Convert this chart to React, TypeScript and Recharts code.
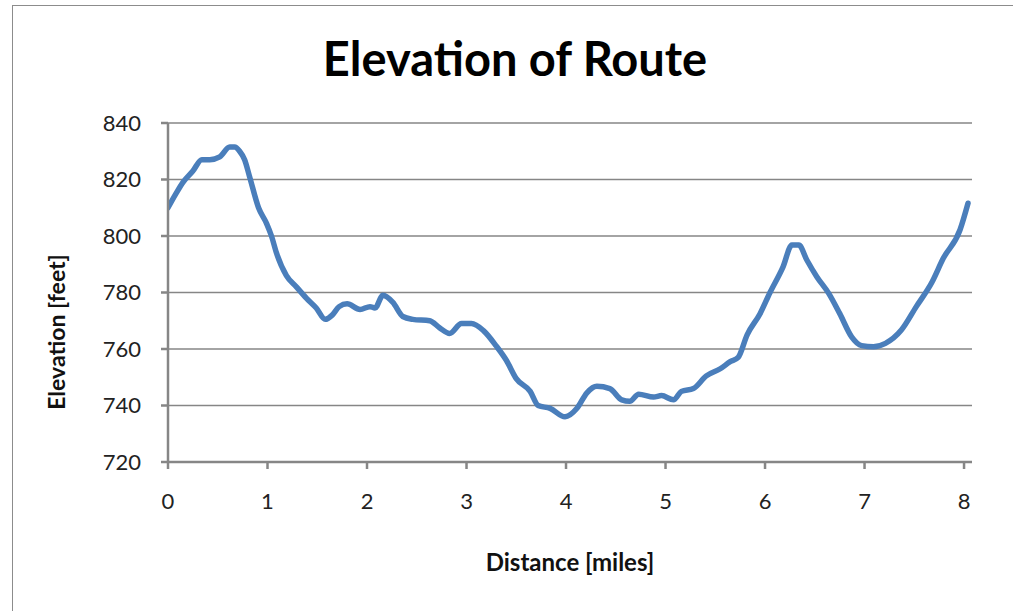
import React from "react";
import { LineChart, Line, XAxis, YAxis, CartesianGrid, Label } from "recharts";

const distanceMiles = [0, 0.08, 0.15, 0.25, 0.34, 0.42, 0.52, 0.62, 0.67, 0.72, 0.77, 0.82, 0.91, 0.99, 1.04, 1.09, 1.19, 1.29, 1.39, 1.49, 1.58, 1.65, 1.72, 1.8, 1.93, 2.03, 2.08, 2.16, 2.26, 2.36, 2.46, 2.63, 2.73, 2.83, 2.95, 3.05, 3.17, 3.3, 3.4, 3.5, 3.64, 3.72, 3.84, 3.99, 4.11, 4.21, 4.31, 4.44, 4.56, 4.64, 4.73, 4.88, 4.96, 5.08, 5.16, 5.28, 5.41, 5.55, 5.65, 5.73, 5.82, 5.95, 6.05, 6.18, 6.27, 6.34, 6.42, 6.52, 6.64, 6.75, 6.87, 6.97, 7.09, 7.21, 7.37, 7.52, 7.68, 7.79, 7.96, 8.04];

const elevationFeet = [810, 815, 819, 823, 827, 827, 828, 831.5, 831.5, 830, 827, 821, 810, 804.5, 800, 794, 786, 782, 778, 774.5, 770.5, 772, 775, 776, 774, 775, 774.5, 779, 776.5, 771.5, 770.5, 770, 767.5, 765.5, 769, 769, 766.5, 761, 756, 749.5, 745, 740, 739, 736, 739, 744.5, 746.8, 746, 742, 741.5, 744, 743, 743.5, 742, 745, 746, 750.5, 753, 755.5, 757, 765, 772.5, 780, 789, 796.8, 796.8, 791.5, 785.6, 779.7, 772.6, 764.3, 761.2, 760.8, 762, 766.7, 775, 783.8, 792, 802.2, 811.6];

const xTicks = [0, 1, 2, 3, 4, 5, 6, 7, 8];
const yTicks = [720, 740, 760, 780, 800, 820, 840];

const chartTitle = "Elevation of Route";
const xTitle = "Distance [miles]";
const yTitle = "Elevation [feet]";

const data = distanceMiles.map((d, i) => ({ d, e: elevationFeet[i] }));

const FONT = "Lato, 'Open Sans', sans-serif";
const AXIS = "#868686";

const YTitle = () => (
  <text
    x={56}
    y={332}
    transform="rotate(-90 56 332)"
    textAnchor="middle"
    dominantBaseline="central"
    style={{ fill: "#111", fontSize: 23, fontWeight: 700, fontFamily: FONT }}
  >
    {yTitle}
  </text>
);

export default function App() {
  return (
    <div style={{ position: "absolute", left: 0, top: 0, width: 1013, height: 611, overflow: "hidden", background: "#fff", fontFamily: FONT }}>
      <div style={{ position: "absolute", left: 12, top: 5, width: 1010, height: 640, border: "1px solid #8c8c8c", boxSizing: "border-box" }} />
      <div style={{ position: "absolute", left: 0, top: 30, width: 1030, textAlign: "center", fontSize: 47, fontWeight: 700, color: "#000", lineHeight: "56px" }}>
        {chartTitle}
      </div>
      <div style={{ position: "absolute", left: 0, top: 0 }}>
        <LineChart width={1013} height={611} data={data} margin={{ top: 123, right: 41, bottom: 0, left: 78 }}>
          <CartesianGrid vertical={false} stroke={AXIS} strokeWidth={1.5} />
          <XAxis
            dataKey="d"
            type="number"
            domain={[0, 8.08]}
            ticks={xTicks}
            allowDataOverflow
            stroke={AXIS}
            strokeWidth={2.5}
            tickSize={7}
            tickMargin={24}
            height={149}
            tick={{ fill: "#222", fontSize: 22, fontFamily: FONT }}
          >
            <Label value={xTitle} position="insideTop" offset={92} style={{ fill: "#111", fontSize: 24, fontWeight: 700, fontFamily: FONT }} />
          </XAxis>
          <YAxis
            type="number"
            domain={[720, 840]}
            ticks={yTicks}
            stroke={AXIS}
            strokeWidth={2.5}
            tickSize={7}
            tickMargin={20}
            width={90}
            tick={{ fill: "#222", fontSize: 22, fontFamily: FONT }}
          >
            <Label content={YTitle} />
          </YAxis>
          <Line type="monotone" dataKey="e" stroke="#4a7ebb" strokeWidth={5.5} dot={false} isAnimationActive={false} strokeLinecap="round" strokeLinejoin="round" />
        </LineChart>
      </div>
    </div>
  );
}
